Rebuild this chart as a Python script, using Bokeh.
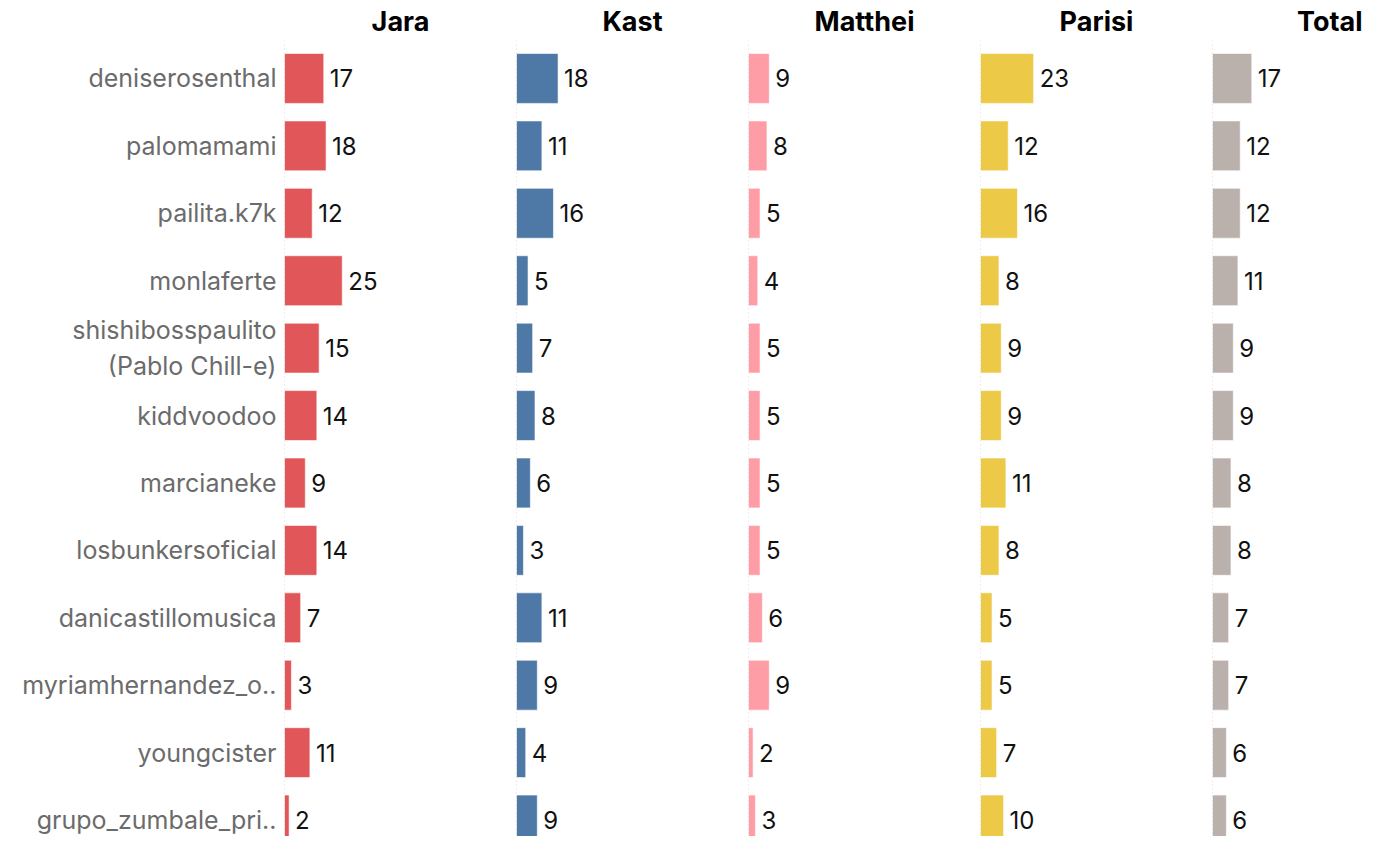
from bokeh.plotting import figure
from bokeh.layouts import row
from bokeh.models import Range1d, Span, FixedTicker, Title
from bokeh.core.properties import value
from bokeh.embed import file_html
from bokeh.resources import INLINE

accounts = ["deniserosenthal", "palomamami", "pailita.k7k", "monlaferte",
            "shishibosspaulito\n(Pablo Chill-e)", "kiddvoodoo", "marcianeke",
            "losbunkersoficial", "danicastillomusica", "myriamhernandez_o..",
            "youngcister", "grupo_zumbale_pri.."]
candidates = ["Jara", "Kast", "Matthei", "Parisi", "Total"]
jara = [17, 18, 12, 25, 15, 14, 9, 14, 7, 3, 11, 2]
kast = [18, 11, 16, 5, 7, 8, 6, 3, 11, 9, 4, 9]
matthei = [9, 8, 5, 4, 5, 5, 5, 5, 6, 9, 2, 3]
parisi = [23, 12, 16, 8, 9, 9, 11, 8, 5, 5, 7, 10]
total = [17, 12, 12, 11, 9, 9, 8, 8, 7, 7, 6, 6]
colors = ["#E15759", "#4E79A7", "#FF9DA7", "#EDC948", "#BAB0AC"]

series = [jara, kast, matthei, parisi, total]
FONT = "Inter"
H = 836
W = 1362
LABEL_W = 284
COL_W = 232
PX_PER_UNIT = 2.31
ROW_PX = 67.5
FRAME_TOP = 39      # expected height of the title panel
FIRST_ROW = 77      # centre of first row, from the top of the figure
widths = [LABEL_W + COL_W, COL_W, COL_W, COL_W, W - LABEL_W - 4 * COL_W]

ys = list(range(len(accounts)))
y_top = -(FIRST_ROW - FRAME_TOP) / ROW_PX
y_bottom = y_top + (H - FRAME_TOP) / ROW_PX

figs = []
for i, (name, vals, col) in enumerate(zip(candidates, series, colors)):
    fw = widths[i]
    frame_w = fw - (LABEL_W if i == 0 else 0)
    p = figure(width=fw, height=H, output_backend="svg", toolbar_location=None,
               x_range=Range1d(0, frame_w / PX_PER_UNIT),
               y_range=Range1d(y_bottom, y_top),
               min_border_left=(LABEL_W if i == 0 else 0), min_border_right=0,
               min_border_top=0, min_border_bottom=0)
    p.title = Title(text=name, text_font=FONT, text_font_size="27px",
                    text_font_style="bold", text_color="#000000",
                    align=("center" if i < 4 else "right"),
                    offset=0, standoff=5)
    p.outline_line_color = None
    p.xgrid.visible = False
    p.ygrid.visible = False
    p.xaxis.visible = False
    p.add_layout(Span(location=0, dimension="height", line_color="#bbbbbb",
                      line_width=1, line_dash="1 3"))
    p.hbar(y=ys, right=vals, left=0, height=0.74, fill_color=col,
           line_color="white", line_width=1, line_alpha=0.6)
    p.text(x=vals, y=ys, text=[str(v) for v in vals], x_offset=6,
           text_baseline="middle", text_align="left",
           text_font=value(FONT), text_font_size="24px", text_color="#111111")
    if i == 0:
        ax = p.yaxis[0]
        ax.ticker = FixedTicker(ticks=ys)
        ax.major_label_overrides = {k: a for k, a in zip(ys, accounts)}
        ax.major_label_text_font = FONT
        ax.major_label_text_font_size = "25px"
        ax.major_label_text_color = "#6b6b6b"
        ax.major_label_standoff = 2
        ax.axis_line_color = None
        ax.major_tick_line_color = None
        ax.minor_tick_line_color = None
    else:
        p.yaxis.visible = False
    figs.append(p)

layout = row(*figs, spacing=0)
open("out.html", "w").write(file_html(layout, INLINE))
